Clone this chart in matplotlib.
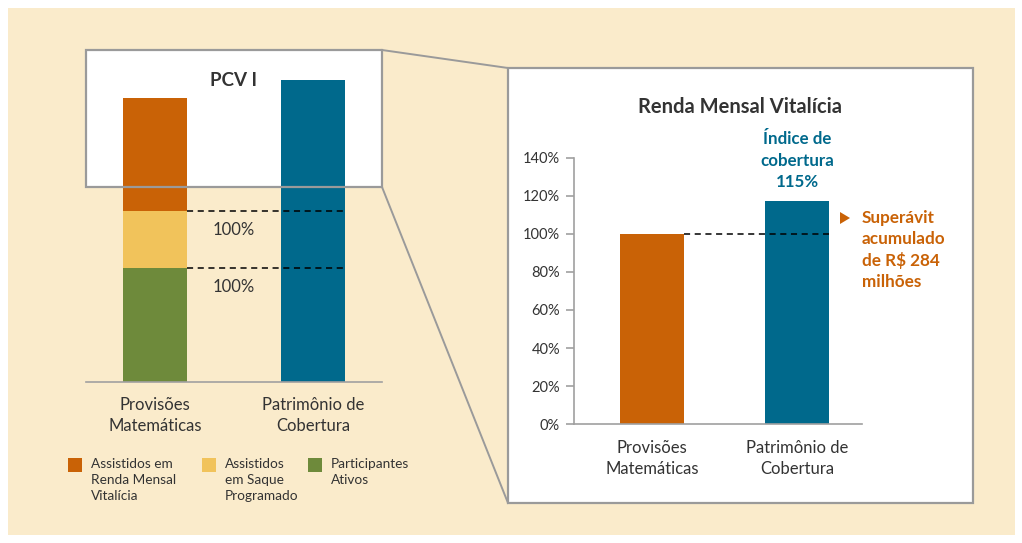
import matplotlib
matplotlib.use("Agg")
import matplotlib.pyplot as plt
from matplotlib.patches import Rectangle, Polygon
from matplotlib.lines import Line2D

plt.rcParams['font.family'] = ['Lato', 'DejaVu Sans']

# ---------------- data ----------------
left_categories = ["Provisões\nMatemáticas", "Patrimônio de\nCobertura"]
stack_labels = ["Assistidos em\nRenda Mensal\nVitalícia", "Assistidos\nem Saque\nProgramado", "Participantes\nAtivos"]
participantes_ativos = [40.0]
saque_programado = [20.0]
renda_mensal = [39.7]
patrimonio_total = [106.0]
left_ratio_labels = ["100%", "100%"]

right_categories = ["Provisões\nMatemáticas", "Patrimônio de\nCobertura"]
right_values = [1.00, 1.17]
right_yticks = [0, 0.2, 0.4, 0.6, 0.8, 1.0, 1.2, 1.4]
right_yticklabels = ["0%", "20%", "40%", "60%", "80%", "100%", "120%", "140%"]

# ---------------- style ----------------
C_ORANGE = "#C96206"
C_YELLOW = "#F1C35B"
C_GREEN = "#6E8A3B"
C_TEAL = "#00698C"
C_BG = "#FAEBCB"
C_BOX = "#9A9A9A"
C_TEXT = "#333333"

W, H = 1022, 543
fig = plt.figure(figsize=(W / 100, H / 100), dpi=100, facecolor="white")


def frect(x0, y0, x1, y1):
    """pixel box (top-left origin) -> figure fraction rect"""
    return [x0 / W, 1 - y1 / H, (x1 - x0) / W, (y1 - y0) / H]


def fx(x):
    return x / W


def fy(y):
    return 1 - y / H


# background
fig.patches.append(Rectangle((fx(8), fy(535)), fx(1015) - fx(8), fy(8) - fy(535),
                             transform=fig.transFigure, facecolor=C_BG, edgecolor="none", zorder=-3))
# white boxes (fill)
fig.patches.append(Rectangle((fx(86), fy(187)), fx(382) - fx(86), fy(50) - fy(187),
                             transform=fig.transFigure, facecolor="white", edgecolor="none", zorder=-2))
fig.patches.append(Rectangle((fx(508), fy(503)), fx(973) - fx(508), fy(68) - fy(503),
                             transform=fig.transFigure, facecolor="white", edgecolor=C_BOX, lw=1.6, zorder=-1))
# left box border on top of bars
fig.patches.append(Rectangle((fx(86), fy(187)), fx(382) - fx(86), fy(50) - fy(187),
                             transform=fig.transFigure, facecolor="none", edgecolor=C_BOX, lw=1.6, zorder=5))
# zoom connector lines
fig.lines.append(Line2D([fx(382), fx(508)], [fy(50), fy(68)], transform=fig.transFigure,
                        color=C_BOX, lw=1.4, zorder=5))
fig.lines.append(Line2D([fx(382), fx(508)], [fy(187), fy(503)], transform=fig.transFigure,
                        color=C_BOX, lw=1.4, zorder=5))

# ---------------- left chart ----------------
axL = fig.add_axes(frect(86, 50, 382, 382))
axL.patch.set_alpha(0)
axL.set_xlim(-0.437, 1.437)
axL.set_ylim(0, 116.5)
bw = 0.405
axL.bar([0], participantes_ativos, width=bw, color=C_GREEN, zorder=2)
axL.bar([0], saque_programado, width=bw, bottom=participantes_ativos, color=C_YELLOW, zorder=2)
b2 = [participantes_ativos[0] + saque_programado[0]]
axL.bar([0], renda_mensal, width=bw, bottom=b2, color=C_ORANGE, zorder=2)
axL.bar([1], patrimonio_total, width=bw, color=C_TEAL, zorder=2)
for lvl, lab in zip([b2[0], participantes_ativos[0]], left_ratio_labels):
    axL.plot([bw / 2, 1 + bw / 2], [lvl, lvl], color="black", lw=1.1, ls=(0, (4, 3)), zorder=3)
    axL.text(0.5, lvl - 6.5, lab, ha="center", va="center", fontsize=12, color=C_TEXT)
for s in ["left", "right", "top"]:
    axL.spines[s].set_visible(False)
axL.spines["bottom"].set_color("#A0A0A0")
axL.spines["bottom"].set_linewidth(1.2)
axL.set_yticks([])
axL.set_xticks([0, 1])
axL.set_xticklabels(left_categories, fontsize=12, color=C_TEXT, linespacing=1.4)
axL.tick_params(axis="x", length=0, pad=11)
fig.text(fx(233), fy(80), "PCV I", ha="center", va="center", fontsize=13.5, fontweight="bold", color=C_TEXT)

# legend
leg_colors = [C_ORANGE, C_YELLOW, C_GREEN]
leg_x = [68, 202, 308]
for c, x, lab in zip(leg_colors, leg_x, stack_labels):
    fig.patches.append(Rectangle((fx(x), fy(472)), fx(x + 14) - fx(x), fy(458) - fy(472),
                                 transform=fig.transFigure, facecolor=c, edgecolor="none"))
    fig.text(fx(x + 23), fy(458), lab, ha="left", va="top", fontsize=9.8, color=C_TEXT, linespacing=1.38)

# ---------------- right chart ----------------
axR = fig.add_axes(frect(574, 157.5, 862, 424.3))
axR.patch.set_alpha(0)
axR.set_xlim(-0.538, 1.448)
axR.set_ylim(0, 1.4)
rbw = 0.44
axR.bar([0, 1], right_values, width=rbw, color=[C_ORANGE, C_TEAL], zorder=2)
axR.plot([rbw / 2, 1 + rbw / 2], [right_values[0], right_values[0]], color="black", lw=1.1,
         ls=(0, (4, 3)), zorder=3)
for s in ["right", "top"]:
    axR.spines[s].set_visible(False)
for s in ["left", "bottom"]:
    axR.spines[s].set_color("#A0A0A0")
    axR.spines[s].set_linewidth(1.2)
axR.set_yticks(right_yticks)
axR.set_yticklabels(right_yticklabels, fontsize=10.5, color=C_TEXT)
axR.tick_params(axis="y", length=6, color="#A0A0A0", width=1.2, pad=4)
axR.set_xticks([0, 1])
axR.set_xticklabels(right_categories, fontsize=12, color=C_TEXT, linespacing=1.4)
axR.tick_params(axis="x", length=0, pad=11)

fig.text(fx(740), fy(107), "Renda Mensal Vitalícia", ha="center", va="center", fontsize=14.5,
         fontweight="bold", color=C_TEXT)
axR.annotate("Índice de\ncobertura\n115%", xy=(1, right_values[1]), xytext=(0, 8),
             textcoords="offset points", ha="center", va="bottom", fontsize=12.2,
             fontweight="bold", color=C_TEAL, linespacing=1.42)
# surplus annotation
fig.patches.append(Polygon([[fx(840), fy(212)], [fx(840), fy(224)], [fx(850), fy(218)]], closed=True,
                           transform=fig.transFigure, facecolor=C_ORANGE, edgecolor="none"))
fig.text(fx(862), fy(210), "Superávit\nacumulado\nde R$ 284\nmilhões", ha="left", va="top",
         fontsize=12.3, fontweight="bold", color=C_ORANGE, linespacing=1.38)

fig.savefig("out.png", dpi=100, facecolor="white")
